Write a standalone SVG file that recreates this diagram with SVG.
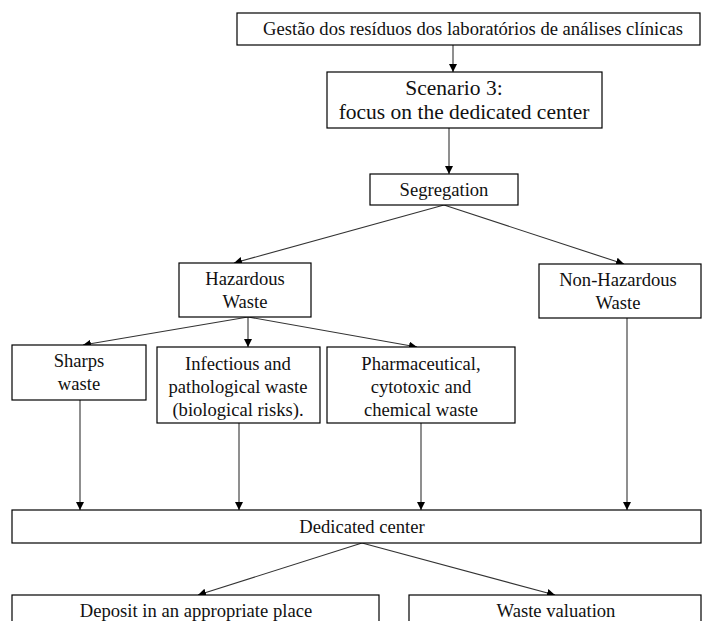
<svg xmlns="http://www.w3.org/2000/svg" width="702" height="621" viewBox="0 0 702 621">
  <style>
    .box { fill: #ffffff; stroke: #000000; stroke-width: 1.2; }
    .lbl { font-family: 'Liberation Serif', Tinos, 'Times New Roman', 'DejaVu Serif', serif; font-size: 18.6px; fill: #111111; text-anchor: middle; }
    .big { font-size: 21.5px; }
    .edge { fill: none; stroke: #333333; stroke-width: 1.1; marker-end: url(#arrow); }
  </style>
  <defs>
    <marker id="arrow" viewBox="0 0 10 10" refX="10" refY="5" markerWidth="8" markerHeight="8" markerUnits="userSpaceOnUse" orient="auto">
      <path d="M0,0 L10,5 L0,10 Z" fill="#000000"/>
    </marker>
  </defs>
  <rect width="702" height="621" fill="#ffffff"/>

  <g id="connectors">
    <line class="edge" x1="453" y1="45" x2="453" y2="72"/>
    <line class="edge" x1="449" y1="128" x2="449" y2="174"/>
    <line class="edge" x1="444" y1="205" x2="234" y2="263"/>
    <line class="edge" x1="444" y1="205" x2="624" y2="264"/>
    <line class="edge" x1="248" y1="317" x2="83" y2="345"/>
    <line class="edge" x1="248" y1="317" x2="248" y2="347"/>
    <line class="edge" x1="248" y1="317" x2="417" y2="347"/>
    <line class="edge" x1="80" y1="400" x2="80" y2="510"/>
    <line class="edge" x1="239" y1="423" x2="239" y2="510"/>
    <line class="edge" x1="421" y1="423" x2="421" y2="510"/>
    <line class="edge" x1="627" y1="318" x2="627" y2="510"/>
    <line class="edge" x1="362" y1="543" x2="198" y2="595"/>
    <line class="edge" x1="362" y1="543" x2="555" y2="595"/>
  </g>

  <g id="node-title">
    <rect class="box" x="237" y="13" width="463" height="32"/>
    <text class="lbl" x="473" y="35">Gestão dos resíduos dos laboratórios de análises clínicas</text>
  </g>

  <g id="node-scenario">
    <rect class="box" x="327" y="72" width="275" height="56"/>
    <text class="lbl big" x="454" y="95">Scenario 3:</text>
    <text class="lbl big" x="464" y="119">focus on the dedicated center</text>
  </g>

  <g id="node-segregation">
    <rect class="box" x="370" y="174" width="148" height="31"/>
    <text class="lbl" x="444" y="196">Segregation</text>
  </g>

  <g id="node-hazardous">
    <rect class="box" x="179" y="263" width="132" height="54"/>
    <text class="lbl" x="245" y="285">Hazardous</text>
    <text class="lbl" x="245" y="308">Waste</text>
  </g>

  <g id="node-non-hazardous">
    <rect class="box" x="539" y="264" width="162" height="54"/>
    <text class="lbl" x="618" y="286">Non-Hazardous</text>
    <text class="lbl" x="618" y="309">Waste</text>
  </g>

  <g id="node-sharps">
    <rect class="box" x="12" y="345" width="134" height="55"/>
    <text class="lbl" x="79" y="367">Sharps</text>
    <text class="lbl" x="79" y="390">waste</text>
  </g>

  <g id="node-infectious">
    <rect class="box" x="157" y="347" width="163" height="76"/>
    <text class="lbl" x="238" y="370">Infectious and</text>
    <text class="lbl" x="238" y="393">pathological waste</text>
    <text class="lbl" x="238" y="416">(biological risks).</text>
  </g>

  <g id="node-pharmaceutical">
    <rect class="box" x="327" y="347" width="188" height="76"/>
    <text class="lbl" x="421" y="370">Pharmaceutical,</text>
    <text class="lbl" x="421" y="393">cytotoxic and</text>
    <text class="lbl" x="421" y="416">chemical waste</text>
  </g>

  <g id="node-dedicated-center">
    <rect class="box" x="12" y="510" width="689" height="33"/>
    <text class="lbl" x="362" y="533">Dedicated center</text>
  </g>

  <g id="node-deposit">
    <rect class="box" x="12" y="595" width="367" height="40"/>
    <text class="lbl" x="196" y="617">Deposit in an appropriate place</text>
  </g>

  <g id="node-valuation">
    <rect class="box" x="409" y="595" width="292" height="40"/>
    <text class="lbl" x="556" y="617">Waste valuation</text>
  </g>
</svg>
